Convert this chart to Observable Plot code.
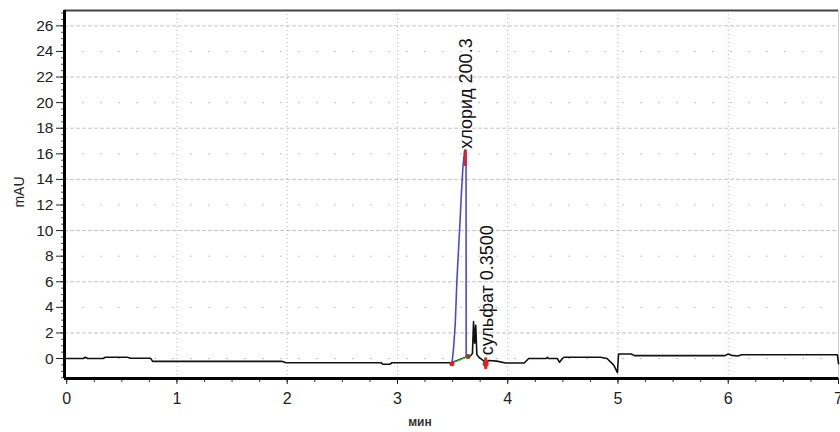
<!DOCTYPE html>
<html>
<head>
<meta charset="utf-8">
<script src="https://cdn.jsdelivr.net/npm/d3@7"></script>
<script src="https://cdn.jsdelivr.net/npm/@observablehq/plot@0.6"></script>
<style>
  html, body { margin: 0; padding: 0; background: #fff; }
  #chart svg { display: block; }
</style>
</head>
<body>
<div id="chart"></div>
<script>
// Main detector trace (black)
const traceTime = [0, 0.15, 0.17, 0.19, 0.33, 0.35, 0.55, 0.58, 0.76, 0.78, 1.95, 1.99, 2.85, 2.87, 2.93, 2.95, 3.49,
  3.63, 3.66, 3.68, 3.69, 3.70, 3.71, 3.72, 3.74, 3.77, 3.80, 3.83, 3.90, 3.98, 4.15, 4.19, 4.35, 4.36, 4.37, 4.45, 4.47, 4.49, 4.51,
  4.84, 4.90, 4.96, 4.995, 5.005, 5.12, 5.15, 5.97, 6.0, 6.03, 6.09, 6.12, 6.99, 7.0];
const traceMAU = [0, 0, 0.1, 0, 0, 0.1, 0.1, 0.02, 0.02, -0.22, -0.22, -0.33, -0.33, -0.45, -0.45, -0.33, -0.33,
  0.15, 0.2, 0.4, 2.9, 1.2, 2.6, 0.3, 0.1, -0.1, -0.3, -0.15, -0.2, -0.35, -0.35, 0.0, 0.0, 0.1, 0.0, 0.0, -0.3, -0.05, 0.1,
  0.1, 0.0, -0.5, -1.1, 0.36, 0.36, 0.23, 0.23, 0.36, 0.25, 0.2, 0.3, 0.3, -0.4];

// Chloride peak (blue)
const peakTime = [3.494, 3.508, 3.524, 3.539, 3.553, 3.569, 3.578, 3.593, 3.608, 3.622, 3.623];
const peakMAU  = [-0.4, 0.75, 2.7, 6.1, 8.4, 11.0, 12.6, 14.9, 16.25, 16.25, 0.15];

// Integration baseline (green)
const baseTime = [3.494, 3.64];
const baseMAU  = [-0.35, 0.15];

// Peak labels
const labelText = ["хлорид 200.3", "сульфат 0.3500"];
const labelTime = [3.62, 3.813];
const labelMAU  = [16.4, 0.25];

// Axes
const xTicks = [0, 1, 2, 3, 4, 5, 6, 7];
const yTicks = [0, 2, 4, 6, 8, 10, 12, 14, 16, 18, 20, 22, 24, 26];
const gridDense = [2, 6, 10, 14, 18, 22, 26];
const gridSparse = [0, 4, 8, 12, 16, 20, 24];
const gridX = [1, 2, 3, 4, 5, 6];

const xDomain = [-0.02, 7.0];
const yDomain = [-1.56, 27.2];

const trace = traceTime.map((t, i) => ({t, v: traceMAU[i]}));
const peak = peakTime.map((t, i) => ({t, v: peakMAU[i]}));
const base = baseTime.map((t, i) => ({t, v: baseMAU[i]}));
const labels = labelText.map((s, i) => ({s, t: labelTime[i], v: labelMAU[i]}));
const minorX = d3.range(0, 7.001, 0.25);
const minorY = d3.range(-1.5, 27.01, 0.5);

const plot = Plot.plot({
  width: 840,
  height: 432,
  marginLeft: 64,
  marginRight: 2,
  marginTop: 10,
  marginBottom: 54,
  style: {fontFamily: "'Liberation Sans', Arial, sans-serif", background: "#fff"},
  x: {domain: xDomain, label: null},
  y: {domain: yDomain, label: null},
  marks: [
    Plot.ruleY(gridDense, {stroke: "#c4c4c4", strokeWidth: 1, strokeDasharray: "4,2"}),
    Plot.ruleY(gridSparse, {stroke: "#c4c4c4", strokeWidth: 1, strokeDasharray: "2,16"}),
    Plot.ruleX(gridX, {stroke: "#b0b0b0", strokeWidth: 1, strokeDasharray: "1,3"}),
    Plot.ruleY([yDomain[1]], {stroke: "#444", strokeWidth: 2}),
    Plot.ruleX([7], {stroke: "#ccc", strokeWidth: 1}),
    Plot.axisX(minorX, {tickSize: 4, text: null, stroke: "#333", label: null}),
    Plot.axisY(minorY, {tickSize: 3, text: null, stroke: "#555", label: null}),
    Plot.axisX(xTicks, {tickSize: 6, tickPadding: 8, fontSize: 16, label: null, color: "#222", stroke: "#222"}),
    Plot.axisY(yTicks, {tickSize: 8, tickPadding: 3, fontSize: 15.5, label: null, color: "#222", stroke: "#222"}),
    Plot.line(trace, {x: "t", y: "v", stroke: "#111", strokeWidth: 1.6}),
    Plot.line(base, {x: "t", y: "v", stroke: "#3cc040", strokeWidth: 1.3}),
    Plot.line(peak, {x: "t", y: "v", stroke: "#4a4ad0", strokeWidth: 1.6}),
    Plot.ruleX([3.615], {y1: 15.0, y2: 16.3, stroke: "#e02020", strokeWidth: 2.5}),
    Plot.dot([{t: 3.494, v: -0.4}], {x: "t", y: "v", r: 2.5, fill: "#e02020"}),
    Plot.dot([{t: 3.64, v: 0.15}], {x: "t", y: "v", r: 2.5, fill: "#8b4513"}),
    Plot.ruleX([3.80], {y1: -0.85, y2: 0.05, stroke: "#e02020", strokeWidth: 3}),
    Plot.dot([{t: 3.80, v: -0.4}], {x: "t", y: "v", r: 3, fill: "#e02020"}),
    Plot.ruleX([xDomain[0]], {stroke: "#000", strokeWidth: 3}),
    Plot.ruleY([yDomain[0]], {stroke: "#000", strokeWidth: 3}),
    Plot.text(labels, {x: "t", y: "v", text: "s", rotate: -90, textAnchor: "start", fontSize: 18, fill: "#111"})
  ]
});

const svg = d3.select(plot);
svg.append("text")
  .attr("x", 20).attr("y", 192)
  .attr("transform", "rotate(-90,20,192)")
  .attr("text-anchor", "middle").attr("dominant-baseline", "middle")
  .attr("font-size", 14).attr("fill", "#222")
  .text("mAU");
svg.append("text")
  .attr("x", 420).attr("y", 426)
  .attr("text-anchor", "middle")
  .attr("font-size", 12).attr("font-weight", "bold").attr("fill", "#333")
  .text("мин");

document.getElementById("chart").appendChild(plot);
</script>
</body>
</html>
